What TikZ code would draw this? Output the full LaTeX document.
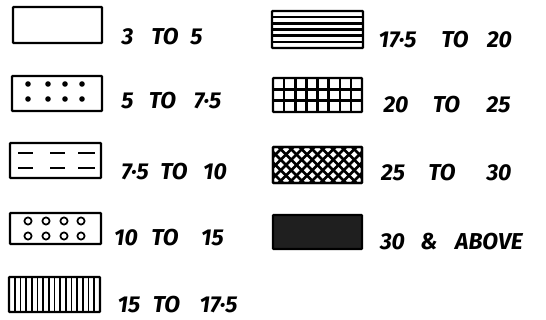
\documentclass[tikz,border=0pt]{standalone}
\usepackage{fontspec}
\setmainfont{Fira Sans}
\begin{document}
\begin{tikzpicture}[x=1pt,y=-1pt,
  box/.style={draw, line width=2.3pt, rounded corners=0.8pt, inner sep=0pt},
  lab/.style={font=\bfseries\itshape\fontsize{23}{23}\selectfont, inner sep=0pt, anchor=center},
  patt/.style={line width=2.5pt},
  thinpatt/.style={line width=1.7pt}]
\useasboundingbox (0,0) rectangle (546,320);
% ---- boxes
\node[box, minimum width=89pt, minimum height=36pt] (b1) at (57.5,25) {};
\node[box, minimum width=90pt, minimum height=35pt] (b2) at (57,93.5) {};
\node[box, minimum width=91pt, minimum height=35pt] (b3) at (55.5,160.5) {};
\node[box, minimum width=91pt, minimum height=31pt] (b4) at (55.5,228.5) {};
\node[box, minimum width=91pt, minimum height=35pt] (b5) at (54.5,294.5) {};
\node[box, minimum width=91pt, minimum height=37pt] (b6) at (317.5,29.5) {};
\node[box, minimum width=89pt, minimum height=34pt] (b7) at (317.5,95) {};
\node[box, minimum width=89pt, minimum height=36pt] (b8) at (317.5,165) {};
\node[box, minimum width=89pt, minimum height=34pt, fill=black!88] (b9) at (317.5,232) {};
% ---- patterns
% dots
\foreach \x in {28,48,65,82} \foreach \y in {84,99} \fill (\x,\y) circle (2.8pt);
% dashes
\foreach \y in {153,168} {
  \draw[patt] (18,\y) -- (33,\y);
  \draw[patt] (50,\y) -- (65,\y);
  \draw[patt] (78,\y) -- (95,\y);
}
% circles
\foreach \x in {28,46,64,81} \foreach \y in {221,236} \draw[thinpatt] (\x,\y) circle (3.6pt);
% vertical lines
\foreach \k in {1,...,15} \draw[thinpatt] (9+\k*91/16,277) -- (9+\k*91/16,312);
% horizontal lines
\foreach \k in {1,...,5} \draw[patt] (272,11+\k*37/6) -- (363,11+\k*37/6);
% grid
\foreach \k in {1,...,7} \draw[patt] (273+\k*89/8,78) -- (273+\k*89/8,112);
\foreach \k in {1,2} \draw[patt] (273,78+\k*34/3) -- (362,78+\k*34/3);
% crosshatch
\begin{scope}
\clip (273,147) rectangle (362,183);
\foreach \k in {0,...,17} {
  \draw[line width=2.6pt] (226+\k*10.5,147) -- (262+\k*10.5,183);
  \draw[line width=2.6pt] (226+\k*10.5,183) -- (262+\k*10.5,147);
}
\end{scope}
\draw[box] (273,147) rectangle (362,183);
% ---- labels
\node[lab] (l1a) at (127.5,37) {3};
\node[lab] (l1b) at (165,37) {TO};
\node[lab] (l1c) at (196.5,37) {5};
\node[lab] (l2a) at (127.5,101) {5};
\node[lab] (l2b) at (162.5,101) {TO};
\node[lab] (l2c) at (207.5,101) {7·5};
\node[lab] (l3a) at (135,172) {7·5};
\node[lab] (l3b) at (174,172) {TO};
\node[lab] (l3c) at (215,172) {10};
\node[lab] (l4a) at (126,238) {10};
\node[lab] (l4b) at (165,238) {TO};
\node[lab] (l4c) at (212.5,238) {15};
\node[lab] (l5a) at (129,305) {15};
\node[lab] (l5b) at (166.5,305) {TO};
\node[lab] (l5c) at (218.5,305) {17·5};
\node[lab] (r1a) at (397.5,40) {17·5};
\node[lab] (r1b) at (455,40) {TO};
\node[lab] (r1c) at (499.5,40) {20};
\node[lab] (r2a) at (396,105) {20};
\node[lab] (r2b) at (446.5,105) {TO};
\node[lab] (r2c) at (498.5,105) {25};
\node[lab] (r3a) at (393,173) {25};
\node[lab] (r3b) at (442,173) {TO};
\node[lab] (r3c) at (499,173) {30};
\node[lab] (r4a) at (392.5,242) {30};
\node[lab] (r4b) at (429,242) {\&};
\node[lab] (r4c) at (489,242) {ABOVE};
\end{tikzpicture}
\end{document}
